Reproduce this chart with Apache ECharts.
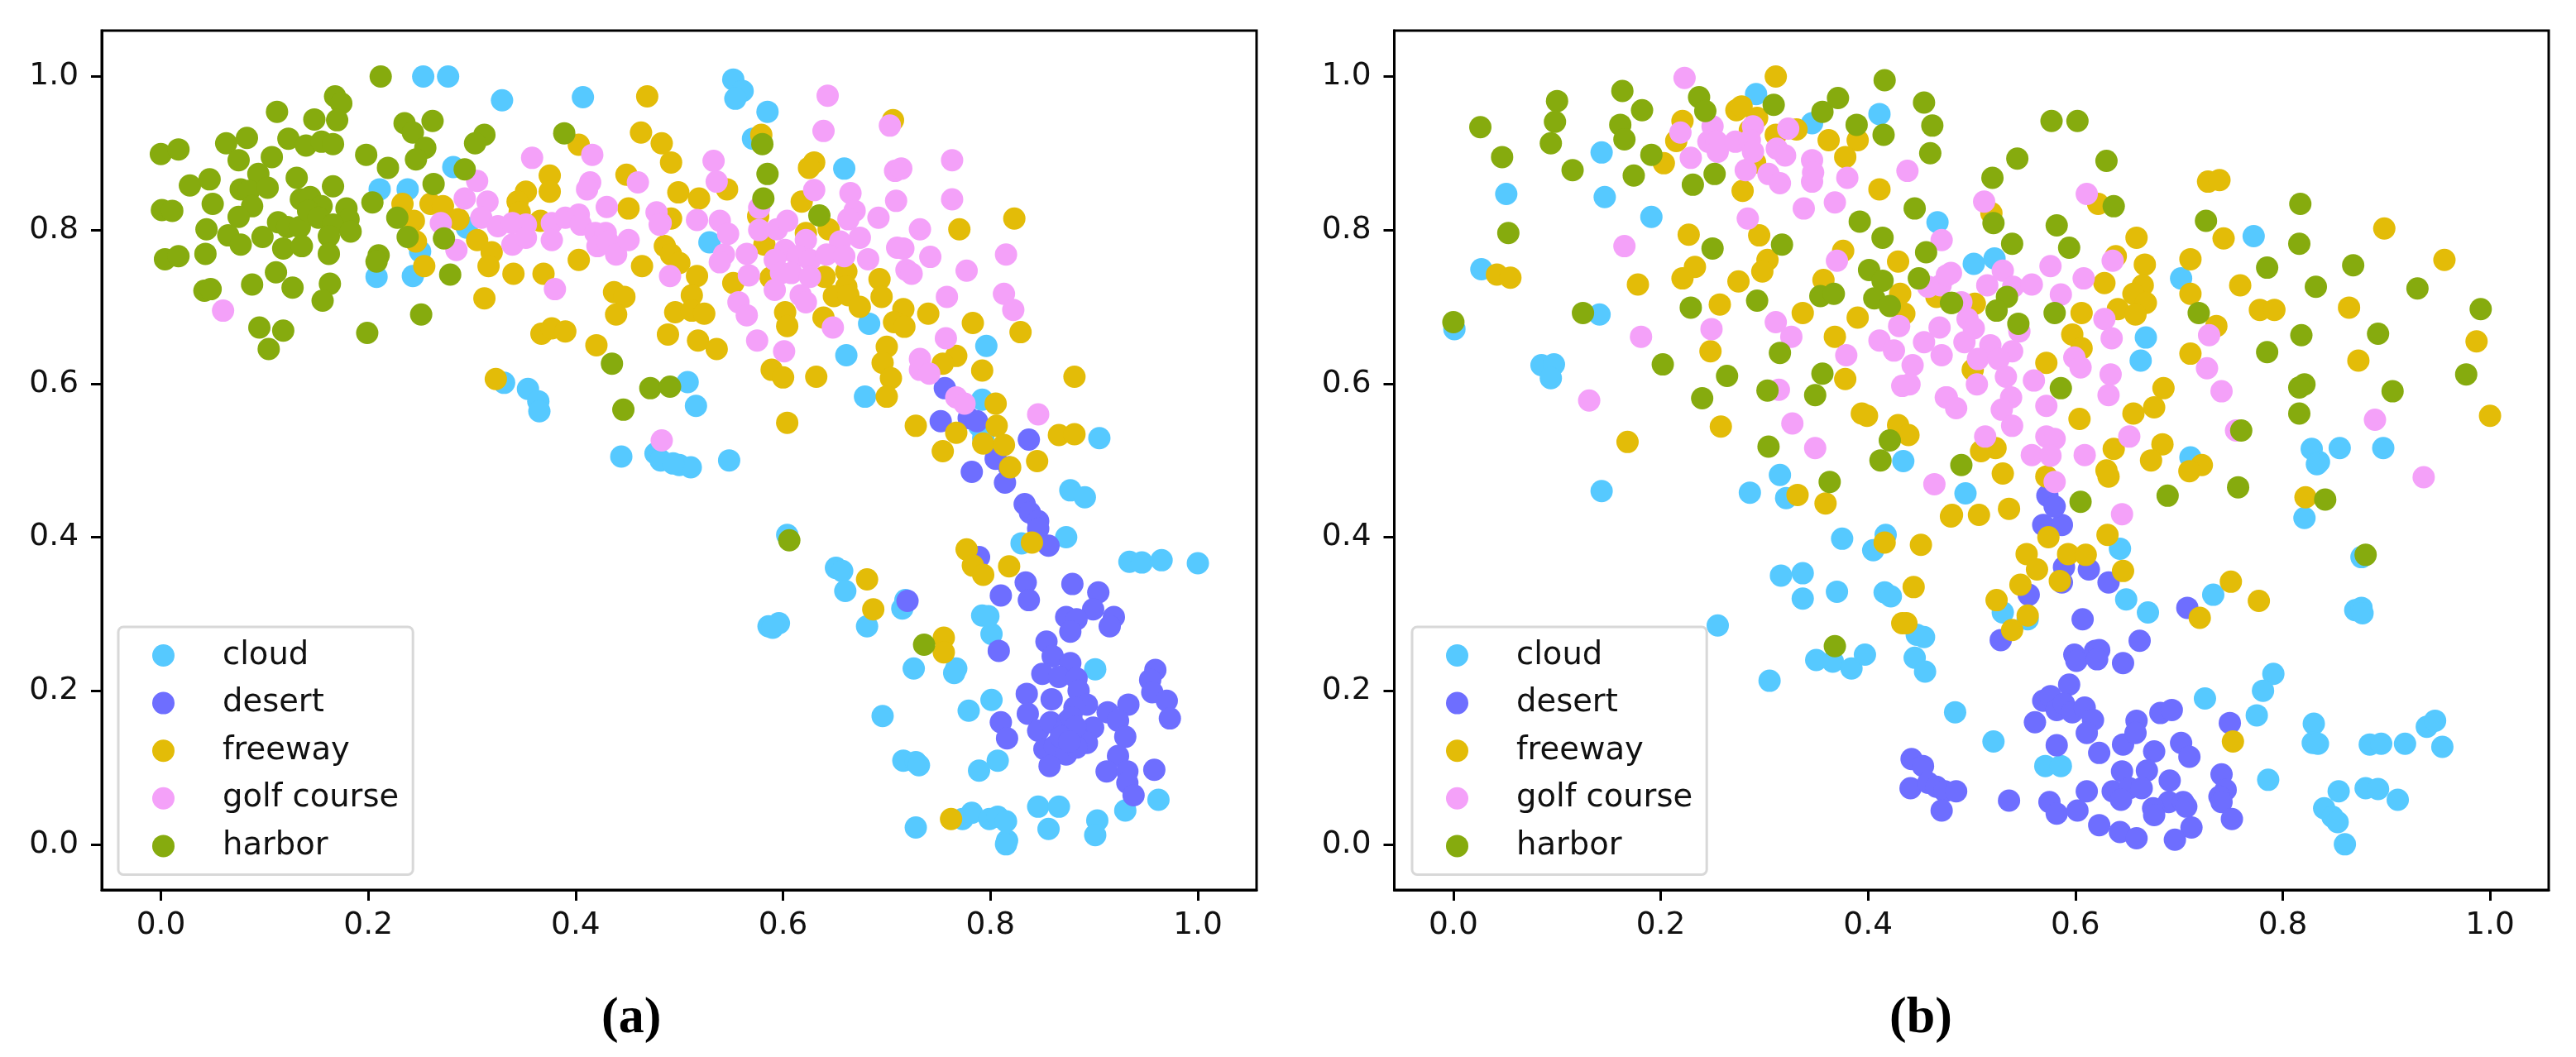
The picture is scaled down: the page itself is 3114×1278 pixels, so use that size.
<!DOCTYPE html>
<html><head><meta charset="utf-8">
<style>html,body{margin:0;padding:0;background:#fff}#c{width:3114px;height:1278px}</style>
<script src="https://cdn.jsdelivr.net/npm/echarts@6/dist/echarts.min.js"></script>
</head><body><div id="c"></div>
<script>
const classNames = ['cloud','desert','freeway','golf course','harbor'];
const classColors = ['#56C9FF','#6E6EFF','#E3BC08','#F4A1F9','#86AB0E'];
const tickValues = [0,0.2,0.4,0.6,0.8,1.0];

const cloudA = [[.253,1],[.277,1],[.329,.969],[.407,.973],[.282,.882],[.211,.853],[.238,.853],[.295,.803],[.25,.772],[.208,.739],[.243,.74],[.331,.601],[.354,.593],[.364,.577],[.365,.564],[.444,.505],[.477,.509],[.482,.5],[.552,.996],[.561,.981],[.554,.971],[.585,.954],[.571,.919],[.659,.88],[.529,.784],[.508,.602],[.516,.571],[.5,.494],[.511,.491],[.494,.496],[.548,.5],[.683,.678],[.661,.637],[.679,.583],[.796,.649],[.792,.579],[.793,.529],[.789,.545],[.877,.461],[.891,.452],[.905,.529],[.604,.403],[.873,.4],[.83,.392],[.934,.368],[.946,.367],[.965,.37],[1,.366],[.651,.36],[.657,.356],[.66,.33],[.718,.318],[.715,.307],[.681,.284],[.586,.284],[.596,.288],[.59,.282],[.792,.298],[.801,.274],[.798,.297],[.726,.229],[.767,.229],[.765,.223],[.801,.188],[.779,.174],[.696,.167],[.901,.228],[.807,.109],[.789,.096],[.716,.109],[.728,.107],[.731,.103],[.728,.022],[.773,.033],[.782,.041],[.799,.033],[.807,.036],[.815,.03],[.816,.005],[.815,0],[.846,.049],[.866,.049],[.856,.02],[.903,.031],[.901,.012],[.93,.044],[.962,.058]];
const desertA = [[.756,.594],[.752,.551],[.779,.555],[.787,.551],[.837,.527],[.805,.502],[.782,.485],[.814,.471],[.818,.491],[.833,.443],[.838,.432],[.846,.421],[.846,.411],[.856,.389],[.789,.374],[.834,.341],[.81,.324],[.837,.318],[.879,.339],[.904,.328],[.873,.296],[.899,.306],[.883,.293],[.877,.277],[.919,.296],[.915,.284],[.808,.252],[.854,.264],[.86,.245],[.85,.222],[.877,.236],[.866,.218],[.883,.216],[.885,.2],[.959,.227],[.954,.214],[.956,.198],[.97,.187],[.973,.164],[.835,.196],[.859,.189],[.836,.17],[.893,.182],[.881,.178],[.913,.172],[.933,.182],[.923,.161],[.899,.152],[.81,.159],[.816,.138],[.846,.148],[.858,.159],[.875,.161],[.883,.143],[.871,.148],[.93,.14],[.893,.132],[.852,.124],[.862,.128],[.873,.117],[.883,.126],[.857,.102],[.923,.115],[.912,.095],[.932,.095],[.958,.097],[.932,.08],[.938,.064],[.72,.317],[.878,.165],[.882,.153],[.868,.14],[.876,.134]];
const freewayA = [[.469,.974],[.463,.927],[.403,.911],[.375,.871],[.375,.85],[.449,.872],[.352,.85],[.344,.837],[.451,.828],[.233,.834],[.244,.812],[.26,.834],[.272,.831],[.287,.814],[.305,.787],[.319,.771],[.316,.753],[.246,.785],[.254,.753],[.34,.743],[.369,.743],[.403,.761],[.464,.753],[.312,.711],[.437,.719],[.447,.713],[.439,.69],[.367,.665],[.377,.672],[.39,.668],[.42,.65],[.323,.606],[.366,.812],[.346,.823],[.483,.913],[.492,.888],[.499,.849],[.519,.841],[.546,.853],[.492,.815],[.579,.924],[.576,.818],[.63,.888],[.625,.881],[.618,.837],[.706,.943],[.622,.796],[.644,.801],[.823,.815],[.77,.801],[.582,.781],[.486,.779],[.492,.768],[.5,.757],[.517,.74],[.552,.731],[.588,.738],[.64,.739],[.661,.746],[.661,.726],[.693,.736],[.695,.713],[.649,.714],[.663,.715],[.512,.715],[.496,.693],[.512,.695],[.524,.691],[.674,.7],[.602,.693],[.604,.675],[.639,.686],[.716,.697],[.707,.68],[.717,.674],[.74,.691],[.489,.664],[.518,.656],[.536,.645],[.783,.679],[.829,.667],[.7,.648],[.696,.627],[.704,.607],[.7,.583],[.589,.618],[.6,.608],[.632,.609],[.767,.636],[.754,.626],[.792,.617],[.881,.609],[.604,.549],[.728,.545],[.805,.574],[.767,.536],[.806,.545],[.793,.522],[.813,.52],[.754,.512],[.845,.499],[.866,.533],[.881,.534],[.819,.491],[.84,.393],[.777,.384],[.783,.363],[.793,.351],[.818,.362],[.681,.345],[.687,.306],[.755,.269],[.755,.25],[.762,.033]];
const golfA = [[.358,.894],[.416,.898],[.305,.864],[.293,.841],[.315,.837],[.414,.862],[.411,.853],[.46,.862],[.43,.83],[.27,.809],[.309,.816],[.325,.805],[.339,.809],[.352,.807],[.339,.781],[.352,.79],[.377,.809],[.377,.787],[.39,.816],[.403,.82],[.405,.807],[.419,.796],[.429,.796],[.421,.779],[.431,.785],[.439,.768],[.451,.787],[.285,.774],[.38,.723],[.06,.695],[.478,.823],[.482,.809],[.533,.89],[.536,.863],[.481,.807],[.517,.813],[.539,.812],[.547,.795],[.543,.768],[.539,.758],[.491,.74],[.565,.769],[.567,.741],[.577,.8],[.594,.801],[.604,.812],[.577,.829],[.63,.852],[.643,.975],[.639,.929],[.703,.936],[.708,.877],[.714,.88],[.763,.891],[.763,.84],[.665,.848],[.669,.825],[.663,.814],[.709,.838],[.692,.816],[.732,.801],[.674,.79],[.655,.785],[.622,.787],[.602,.774],[.592,.761],[.614,.766],[.626,.761],[.642,.768],[.659,.766],[.682,.762],[.71,.777],[.716,.776],[.742,.765],[.815,.768],[.777,.747],[.719,.748],[.724,.743],[.598,.744],[.608,.744],[.626,.739],[.592,.722],[.557,.706],[.565,.689],[.617,.715],[.622,.706],[.758,.713],[.813,.717],[.822,.696],[.648,.673],[.575,.656],[.601,.642],[.757,.659],[.732,.632],[.732,.618],[.741,.613],[.767,.582],[.775,.574],[.846,.56],[.483,.526]];
const harborA = [[0,.899],[.017,.905],[.063,.913],[.083,.92],[.075,.891],[.112,.954],[.123,.919],[.148,.944],[.14,.91],[.155,.915],[.166,.912],[.168,.974],[.174,.965],[.17,.943],[.107,.895],[.094,.873],[.131,.868],[.166,.857],[.198,.898],[.212,1],[.219,.881],[.235,.939],[.243,.927],[.262,.942],[.255,.907],[.246,.892],[.312,.924],[.303,.913],[.293,.879],[.263,.86],[.389,.926],[.028,.858],[.047,.866],[.001,.826],[.011,.825],[.05,.834],[.077,.853],[.085,.851],[.103,.855],[.088,.831],[.075,.817],[.044,.801],[.065,.793],[.077,.781],[.098,.791],[.113,.81],[.122,.804],[.134,.804],[.135,.84],[.144,.843],[.155,.831],[.142,.825],[.152,.816],[.179,.828],[.181,.814],[.166,.807],[.183,.798],[.162,.792],[.118,.776],[.136,.779],[.162,.769],[.004,.762],[.017,.766],[.043,.769],[.111,.745],[.088,.729],[.127,.725],[.163,.73],[.156,.708],[.042,.721],[.048,.723],[.095,.673],[.118,.669],[.104,.645],[.199,.666],[.204,.836],[.228,.816],[.238,.791],[.273,.789],[.21,.767],[.208,.759],[.279,.742],[.251,.69],[.435,.626],[.472,.594],[.446,.566],[.491,.596],[.58,.912],[.585,.873],[.581,.841],[.635,.819],[.606,.396],[.736,.26]];

const cloudB = [[.001,.671],[.027,.749],[.051,.847],[.143,.901],[.146,.843],[.191,.817],[.141,.69],[.085,.624],[.097,.625],[.094,.607],[.143,.46],[.292,.977],[.346,.939],[.411,.951],[.467,.81],[.434,.499],[.315,.481],[.286,.458],[.321,.451],[.375,.398],[.417,.403],[.405,.383],[.316,.35],[.337,.353],[.337,.32],[.37,.329],[.416,.328],[.422,.323],[.255,.285],[.447,.273],[.454,.27],[.445,.243],[.455,.225],[.35,.24],[.366,.238],[.384,.229],[.397,.247],[.305,.213],[.484,.172],[.502,.756],[.522,.763],[.702,.737],[.772,.792],[.668,.66],[.663,.63],[.494,.457],[.711,.504],[.828,.515],[.855,.516],[.835,.498],[.833,.495],[.897,.516],[.821,.425],[.643,.385],[.649,.319],[.67,.302],[.733,.325],[.53,.302],[.554,.293],[.87,.305],[.876,.308],[.877,.301],[.876,.374],[.521,.134],[.571,.102],[.586,.102],[.725,.19],[.791,.222],[.781,.2],[.775,.168],[.786,.084],[.83,.157],[.829,.132],[.834,.131],[.884,.13],[.895,.131],[.918,.131],[.939,.153],[.947,.161],[.954,.127],[.854,.069],[.88,.073],[.892,.072],[.911,.058],[.84,.047],[.848,.036],[.853,.029],[.86,0]];
const desertB = [[.442,.111],[.453,.102],[.441,.073],[.458,.08],[.466,.075],[.474,.069],[.471,.044],[.485,.069],[.536,.057],[.589,.361],[.587,.341],[.613,.358],[.632,.341],[.555,.325],[.528,.266],[.708,.308],[.607,.293],[.662,.265],[.599,.247],[.601,.239],[.619,.252],[.623,.253],[.621,.241],[.646,.236],[.594,.208],[.569,.187],[.576,.193],[.582,.175],[.589,.183],[.597,.172],[.609,.178],[.617,.162],[.611,.145],[.561,.159],[.582,.129],[.623,.119],[.646,.13],[.659,.161],[.658,.145],[.682,.171],[.693,.175],[.676,.121],[.702,.132],[.71,.114],[.749,.158],[.645,.095],[.669,.096],[.636,.069],[.652,.073],[.664,.073],[.644,.058],[.611,.069],[.691,.083],[.69,.055],[.704,.055],[.707,.049],[.675,.047],[.676,.038],[.741,.091],[.745,.071],[.739,.062],[.741,.055],[.751,.033],[.575,.055],[.582,.04],[.602,.044],[.623,.025],[.643,.016],[.659,.008],[.712,.022],[.696,.006],[.573,.454],[.569,.416],[.587,.416],[.58,.44]];
const freewayB = [[.311,1],[.273,.956],[.278,.961],[.293,.946],[.221,.942],[.286,.93],[.311,.924],[.331,.931],[.215,.916],[.203,.887],[.362,.917],[.39,.917],[.378,.895],[.411,.853],[.279,.851],[.291,.888],[.227,.794],[.233,.752],[.221,.737],[.178,.729],[.042,.742],[.055,.738],[.295,.793],[.303,.761],[.298,.746],[.275,.733],[.257,.703],[.337,.692],[.39,.686],[.376,.773],[.429,.759],[.357,.735],[.431,.717],[.435,.691],[.368,.661],[.248,.642],[.378,.606],[.258,.544],[.168,.524],[.394,.561],[.399,.558],[.429,.546],[.439,.533],[.332,.455],[.359,.444],[.48,.427],[.466,.713],[.416,.393],[.451,.39],[.444,.335],[.433,.288],[.437,.288],[.519,.822],[.622,.834],[.728,.863],[.739,.865],[.659,.79],[.898,.802],[.743,.789],[.711,.762],[.956,.761],[.639,.766],[.667,.755],[.628,.731],[.665,.728],[.711,.717],[.759,.728],[.656,.717],[.668,.705],[.503,.704],[.606,.692],[.641,.697],[.658,.69],[.778,.696],[.792,.696],[.864,.699],[.736,.675],[.597,.664],[.606,.646],[.987,.655],[.572,.627],[.501,.618],[.711,.639],[.873,.63],[.685,.594],[.676,.569],[.656,.561],[.604,.554],[1,.558],[.523,.516],[.509,.512],[.637,.515],[.684,.521],[.673,.5],[.722,.494],[.71,.486],[.53,.483],[.572,.479],[.63,.487],[.632,.479],[.822,.452],[.481,.429],[.507,.429],[.536,.437],[.631,.403],[.553,.378],[.574,.4],[.593,.378],[.61,.377],[.563,.358],[.646,.356],[.547,.338],[.585,.343],[.524,.318],[.554,.298],[.539,.279],[.75,.342],[.777,.317],[.72,.295],[.752,.134]];
const golfB = [[.223,.998],[.219,.927],[.25,.935],[.229,.894],[.246,.915],[.254,.915],[.255,.902],[.272,.915],[.289,.935],[.286,.917],[.289,.902],[.282,.878],[.312,.906],[.323,.932],[.32,.897],[.304,.873],[.315,.861],[.346,.891],[.347,.875],[.346,.863],[.38,.868],[.338,.828],[.368,.836],[.284,.815],[.438,.877],[.165,.779],[.181,.661],[.131,.578],[.249,.671],[.311,.68],[.326,.661],[.314,.592],[.327,.548],[.349,.516],[.37,.76],[.471,.787],[.411,.656],[.425,.643],[.43,.675],[.454,.654],[.469,.673],[.471,.637],[.379,.637],[.443,.624],[.433,.597],[.44,.599],[.475,.582],[.464,.469],[.458,.726],[.48,.744],[.47,.728],[.611,.847],[.512,.837],[.636,.76],[.576,.753],[.608,.737],[.53,.747],[.515,.728],[.54,.726],[.558,.729],[.476,.741],[.586,.716],[.49,.706],[.496,.684],[.502,.672],[.628,.684],[.635,.659],[.729,.663],[.546,.668],[.493,.654],[.518,.65],[.539,.642],[.506,.632],[.526,.632],[.599,.634],[.605,.621],[.727,.62],[.533,.609],[.505,.599],[.56,.604],[.634,.612],[.632,.585],[.741,.59],[.476,.582],[.485,.568],[.538,.582],[.529,.566],[.539,.545],[.572,.571],[.513,.531],[.572,.531],[.58,.528],[.558,.507],[.576,.506],[.609,.507],[.652,.531],[.58,.472],[.645,.43],[.889,.553],[.936,.478],[.755,.539]];
const harborB = [[.026,.934],[.047,.895],[.053,.796],[0,.68],[.1,.968],[.098,.941],[.094,.913],[.115,.878],[.125,.692],[.163,.981],[.182,.956],[.161,.937],[.165,.918],[.174,.871],[.191,.898],[.237,.973],[.243,.955],[.231,.859],[.252,.873],[.25,.776],[.229,.699],[.202,.625],[.24,.581],[.264,.61],[.293,.708],[.317,.781],[.309,.963],[.356,.954],[.371,.972],[.389,.937],[.415,.924],[.416,.995],[.454,.966],[.462,.936],[.46,.9],[.445,.828],[.392,.811],[.414,.79],[.456,.771],[.401,.748],[.414,.734],[.449,.737],[.354,.714],[.367,.717],[.406,.711],[.421,.701],[.48,.705],[.315,.64],[.356,.613],[.303,.591],[.349,.585],[.304,.518],[.421,.526],[.412,.5],[.363,.472],[.49,.494],[.368,.258],[.577,.942],[.602,.942],[.544,.893],[.52,.868],[.63,.89],[.637,.831],[.521,.809],[.582,.806],[.539,.782],[.594,.777],[.817,.834],[.726,.812],[.816,.782],[.868,.754],[.785,.751],[.832,.726],[.93,.724],[.719,.692],[.58,.692],[.534,.713],[.524,.695],[.481,.705],[.545,.678],[.991,.697],[.818,.663],[.892,.665],[.785,.641],[.977,.612],[.821,.599],[.816,.595],[.906,.59],[.816,.561],[.586,.594],[.76,.539],[.689,.454],[.757,.465],[.605,.446],[.841,.449],[.88,.377]];

const panelA = [cloudA,desertA,freewayA,golfA,harborA];
const panelB = [cloudB,desertB,freewayB,golfB,harborB];

const FONT = '"DejaVu Sans"';
const FS = 37.5;
function xAxis(i){return {gridIndex:i,type:'value',min:-0.057,max:1.0566,
  axisLine:{show:true,onZero:false,lineStyle:{color:'#000',width:3}},
  axisTick:{show:true,length:13,customValues:tickValues,lineStyle:{color:'#000',width:3}},
  axisLabel:{show:true,customValues:tickValues,margin:24,color:'#111',fontFamily:FONT,fontSize:FS,formatter:v=>v.toFixed(1)},
  splitLine:{show:false}};}
function yAxis(i){return {gridIndex:i,type:'value',min:-0.0594,max:1.0597,
  axisLine:{show:true,onZero:false,lineStyle:{color:'#000',width:3}},
  axisTick:{show:true,length:13,customValues:tickValues,lineStyle:{color:'#000',width:3}},
  axisLabel:{show:true,customValues:tickValues,margin:28,color:'#111',fontFamily:FONT,fontSize:FS,formatter:v=>v.toFixed(1)},
  splitLine:{show:false}};}
function legend(left){return {orient:'vertical',left:left,top:758,data:classNames,icon:'circle',
  itemWidth:27,itemHeight:27,itemGap:18.6,padding:[15,17,15,41],
  backgroundColor:'#fff',borderColor:'#d8d8d8',borderWidth:3,borderRadius:6,
  selectedMode:false,
  textStyle:{fontFamily:FONT,fontSize:38.5,color:'#111',padding:[-6,0,0,53]}};}
function series(panel,i){return panel.map((d,k)=>({type:'scatter',name:classNames[k],xAxisIndex:i,yAxisIndex:i,
  data:d,symbol:'circle',symbolSize:27,itemStyle:{color:classColors[k],opacity:1},silent:true,z:2+k}));}
function caption(letter,left){return {text:'{p|(}{l|'+letter+'}{p|)}',left:left,top:1196,
  textStyle:{rich:{p:{fontFamily:'"Liberation Serif"',fontSize:62,color:'#000'},l:{fontFamily:'"Liberation Serif"',fontSize:62,fontWeight:'bold',color:'#000'}}}};}

const chart = echarts.init(document.getElementById('c'),null,{renderer:'canvas'});
chart.setOption({
  animation:false,
  backgroundColor:'#fff',
  title:[caption('a',722),caption('b',2279)],
  grid:[
    {left:123,top:37,width:1396,height:1039,show:true,borderColor:'#000',borderWidth:3,backgroundColor:'#fff'},
    {left:1685.5,top:37,width:1395.5,height:1039,show:true,borderColor:'#000',borderWidth:3,backgroundColor:'#fff'}
  ],
  xAxis:[xAxis(0),xAxis(1)],
  yAxis:[yAxis(0),yAxis(1)],
  legend:[legend(143),legend(1707)],
  series:[...series(panelA,0),...series(panelB,1)]
});
</script></body></html>
